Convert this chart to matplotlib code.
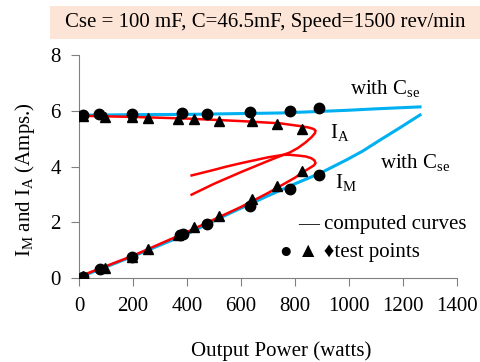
import matplotlib
import matplotlib.pyplot as plt
from matplotlib.patches import Rectangle

matplotlib.use("Agg")

plt.rcParams["font.family"] = "serif"
plt.rcParams["font.serif"] = ["Liberation Serif"]
plt.rcParams["mathtext.fontset"] = "custom"
plt.rcParams["mathtext.rm"] = "Liberation Serif"

# computed curves
ia_cse_x = [0, 200, 400, 600, 744, 900, 1000, 1100, 1263]
ia_cse_y = [5.84, 5.86, 5.87, 5.9, 5.92, 5.98, 6.02, 6.07, 6.14]

im_cse_x = [0, 200, 400, 560, 700, 800, 893, 991, 1050, 1115, 1190, 1263]
im_cse_y = [0.02, 0.78, 1.58, 2.33, 2.95, 3.38, 3.76, 4.24, 4.55, 4.95, 5.4, 5.85]

ia_x = [0, 200, 400, 600, 744, 820, 850, 868, 876, 874, 862, 840, 810, 780, 757, 700, 600, 500, 417]
ia_y = [5.82, 5.78, 5.72, 5.63, 5.55, 5.45, 5.4, 5.35, 5.29, 5.2, 5.06, 4.87, 4.66, 4.5, 4.42, 4.2, 3.8, 3.38, 2.99]

im_x = [0, 200, 400, 600, 700, 800, 830, 855, 870, 876, 872, 860, 840, 815, 780, 757, 700, 600, 547, 500, 417]
im_y = [0.05, 0.8, 1.65, 2.55, 3.05, 3.6, 3.8, 3.95, 4.04, 4.12, 4.22, 4.3, 4.36, 4.39, 4.42, 4.42, 4.33, 4.12, 4.0, 3.88, 3.68]

# test points
ia_circ_x = [16, 75, 195, 383, 473, 633, 780, 889]
ia_circ_y = [5.85, 5.9, 5.9, 5.92, 5.9, 5.95, 6.0, 6.1]
ia_tri_x = [13, 96, 198, 257, 368, 427, 520, 642, 732, 825]
ia_tri_y = [5.8, 5.78, 5.78, 5.75, 5.7, 5.72, 5.63, 5.63, 5.53, 5.36]
im_circ_x = [14, 78, 195, 374, 384, 473, 633, 780, 889]
im_circ_y = [0.05, 0.31, 0.77, 1.56, 1.58, 1.95, 2.57, 3.19, 3.7]
im_tri_x = [16, 96, 197, 257, 368, 427, 520, 642, 732, 825]
im_tri_y = [0.08, 0.36, 0.75, 1.03, 1.54, 1.82, 2.21, 2.83, 3.29, 3.85]

BLUE = "#00B0F0"
RED = "#FF0000"
FS = 15


def main():
    fig = plt.figure(figsize=(4.8, 3.62), dpi=100)
    ax = fig.add_axes([0.1646, 0.232, 0.7875, 0.616])

    ax.plot(ia_cse_x, ia_cse_y, color=BLUE, lw=2.2, zorder=2)
    ax.plot(im_cse_x, im_cse_y, color=BLUE, lw=2.2, zorder=2)
    ax.plot(ia_x, ia_y, color=RED, lw=1.8, zorder=3)
    ax.plot(im_x, im_y, color=RED, lw=1.8, zorder=3)

    for xs, ys, m in [(ia_circ_x, ia_circ_y, "o"), (im_circ_x, im_circ_y, "o"),
                      (ia_tri_x, ia_tri_y, "^"), (im_tri_x, im_tri_y, "^")]:
        ax.plot(xs, ys, ls="none", marker=m, ms=7.5, color="black", zorder=4)

    ax.set_xlim(0, 1400)
    ax.set_ylim(0, 8)
    ax.set_xticks(range(0, 1401, 200))
    ax.set_yticks([0, 2, 4, 6, 8])
    for s in ["top", "right"]:
        ax.spines[s].set_visible(False)
    for s in ["left", "bottom"]:
        ax.spines[s].set_color("#808080")
    ax.tick_params(labelsize=FS, color="#808080", length=6)
    ax.tick_params(axis="x", pad=8)
    ax.tick_params(axis="y", pad=7)

    ax.text(1004, 6.79, r"with C$_{\rm se}$", fontsize=FS, va="center")
    ax.text(1115, 4.11, r"with C$_{\rm se}$", fontsize=FS, va="center")
    ax.text(930, 5.18, r"I$_{\rm A}$", fontsize=FS, va="center")
    ax.text(948, 3.4, r"I$_{\rm M}$", fontsize=FS, va="center")
    ax.text(811, 1.93, "— computed curves", fontsize=FS, va="center")
    ax.text(745, 0.93, "● ▲ ♦test points", fontsize=FS, va="center",
            family=["Liberation Serif", "DejaVu Sans"])

    fig.text(0.052, 0.505, r"I$_{\rm M}$ and I$_{\rm A}$ (Amps.)", fontsize=FS,
             rotation=90, ha="center", va="center")
    fig.text(0.586, 0.03, "Output Power (watts)", fontsize=FS, ha="center", va="center")

    fig.patches.append(Rectangle((0.104, 0.892), 0.9, 0.091, transform=fig.transFigure,
                                 facecolor="#FCE4D6", edgecolor="none", zorder=0))
    fig.text(0.552, 0.939, "Cse = 100 mF, C=46.5mF, Speed=1500 rev/min", fontsize=FS,
             ha="center", va="center")

    fig.savefig("out.png", dpi=100)


if __name__ == "__main__":
    main()
